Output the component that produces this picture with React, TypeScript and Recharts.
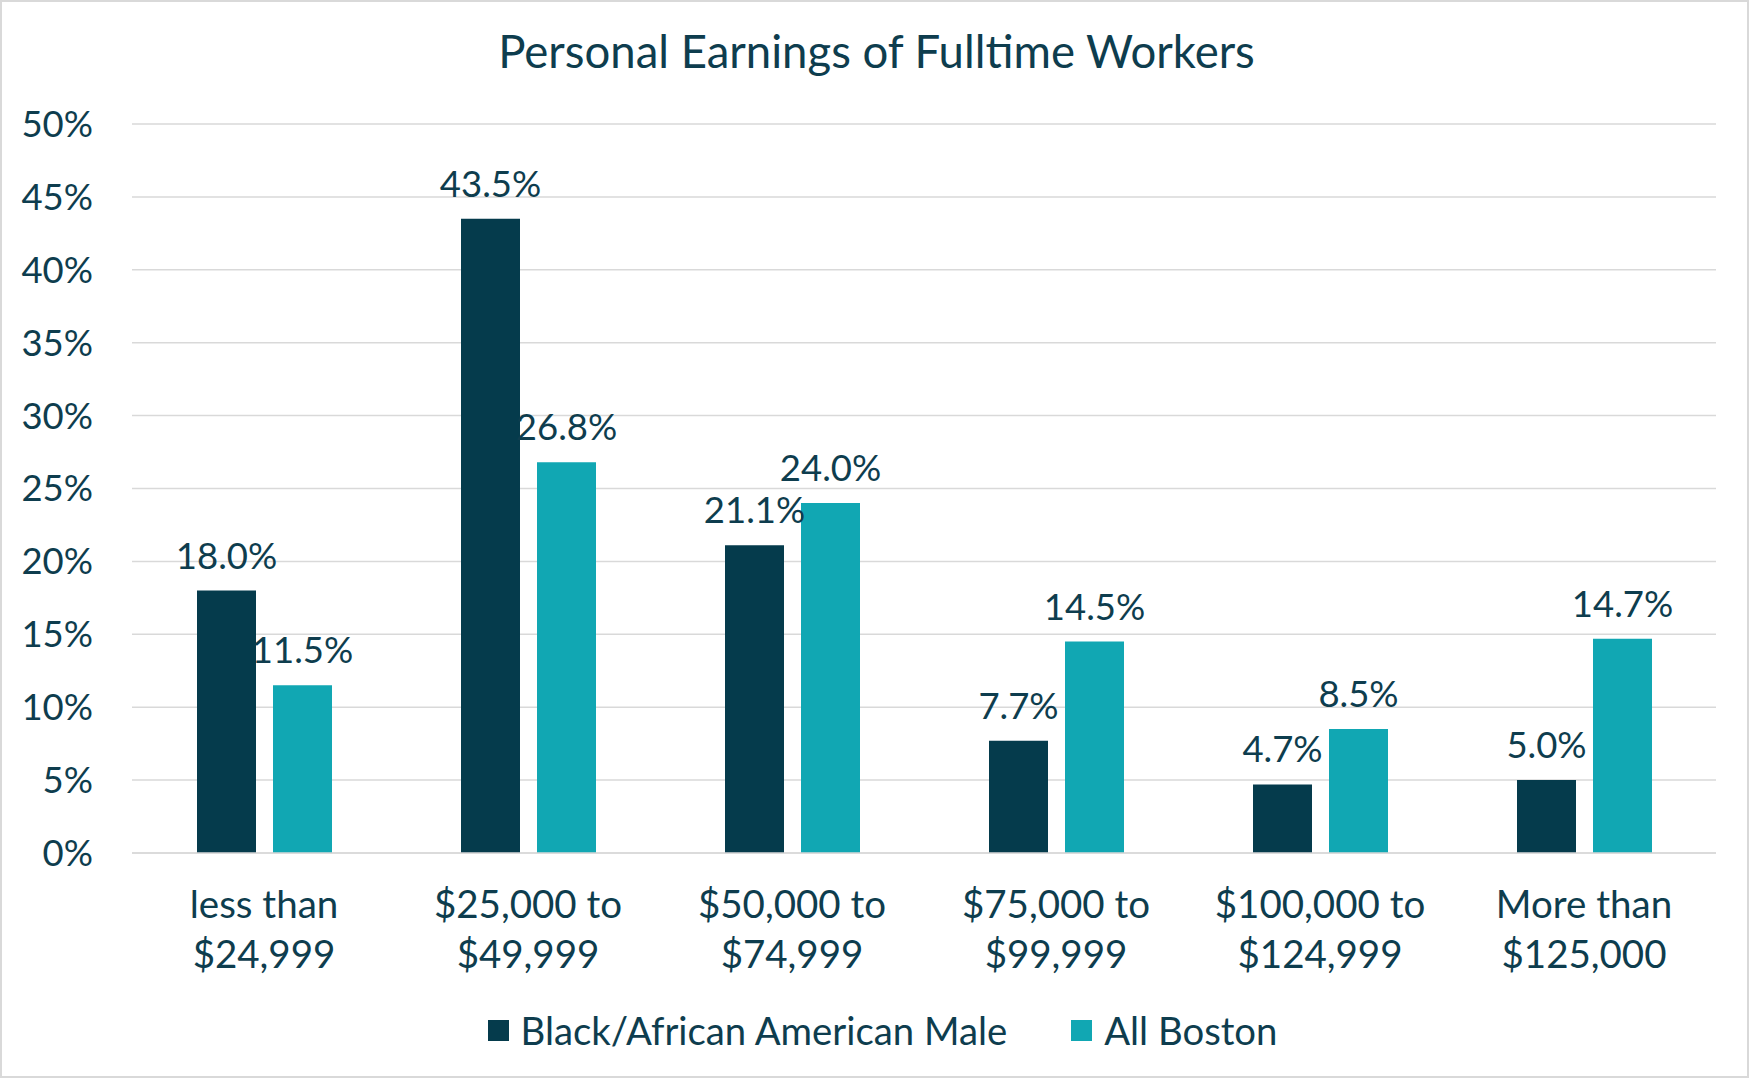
import React from "react";
import {
  BarChart,
  Bar,
  XAxis,
  YAxis,
  CartesianGrid,
  Legend,
  LabelList,
} from "recharts";

const categories = [
  "less than $24,999",
  "$25,000 to $49,999",
  "$50,000 to $74,999",
  "$75,000 to $99,999",
  "$100,000 to $124,999",
  "More than $125,000",
];
const blackMale = [18.0, 43.5, 21.1, 7.7, 4.7, 5.0];
const allBoston = [11.5, 26.8, 24.0, 14.5, 8.5, 14.7];
const yTicks = [0, 5, 10, 15, 20, 25, 30, 35, 40, 45, 50];

const seriesNames = ["Black/African American Male", "All Boston"];
const DARK = "#053b4c";
const TEAL = "#11a7b3";
const TEXT = "#0e3d4e";
const GRID = "#d9d9d9";
const FONT = "Lato, 'Open Sans', sans-serif";

const data = categories.map((c, i) => ({
  name: c,
  black: blackMale[i],
  boston: allBoston[i],
}));

const pct = (v: number) => `${v.toFixed(1)}%`;

function CategoryTick(props: any) {
  const { x, y, payload } = props;
  const label: string = payload.value;
  const cut = label.lastIndexOf(" ");
  const top = label.slice(0, cut);
  const bottom = label.slice(cut + 1);
  return (
    <g>
      <text x={x} y={y + 63} textAnchor="middle" fill={TEXT} fontSize={38.5} fontFamily={FONT}>
        {top}
      </text>
      <text x={x} y={y + 113} textAnchor="middle" fill={TEXT} fontSize={38.5} fontFamily={FONT}>
        {bottom}
      </text>
    </g>
  );
}

function LegendBox() {
  const colors = [DARK, TEAL];
  return (
    <div
      style={{
        height: 60,
        display: "flex",
        justifyContent: "center",
        alignItems: "center",
        paddingLeft: 49,
        fontFamily: FONT,
        fontSize: 38.3,
        color: TEXT,
      }}
    >
      {seriesNames.map((n, i) => (
        <div key={n} style={{ display: "flex", alignItems: "center", marginRight: i === 0 ? 64 : 0 }}>
          <span style={{ width: 21, height: 21, background: colors[i], marginRight: 12, display: "inline-block" }} />
          <span>{n}</span>
        </div>
      ))}
    </div>
  );
}

export default function App() {
  return (
    <div
      style={{
        position: "absolute",
        left: 0,
        top: 0,
        width: 1749,
        height: 1078,
        boxSizing: "border-box",
        border: "2px solid #d9d9d9",
        background: "#fff",
      }}
    >
      <div
        style={{
          position: "absolute",
          top: 19,
          left: 0,
          width: 1749,
          textAlign: "center",
          fontFamily: FONT,
          fontSize: 45.5,
          lineHeight: "60px",
          color: TEXT,
        }}
      >
        Personal Earnings of Fulltime Workers
      </div>
      <div style={{ position: "absolute", left: -2, top: -2 }}>
        <BarChart
          width={1749}
          height={1078}
          data={data}
          margin={{ top: 124, right: 33, bottom: 18, left: 0 }}
          barSize={59}
          barGap={17}
        >
          <CartesianGrid vertical={false} stroke={GRID} strokeWidth={1.5} />
          <XAxis
            dataKey="name"
            interval={0}
            height={147}
            tickLine={false}
            tickSize={0}
            axisLine={{ stroke: GRID, strokeWidth: 1.5 }}
            tick={<CategoryTick />}
          />
          <YAxis
            width={132}
            domain={[0, 50]}
            ticks={yTicks}
            interval={0}
            axisLine={false}
            tickLine={false}
            tickSize={0}
            tickMargin={39}
            tickFormatter={(v: number) => `${v}%`}
            tick={{ fill: TEXT, fontSize: 36.5, fontFamily: FONT }}
          />
          <Legend verticalAlign="bottom" content={<LegendBox />} />
          <Bar dataKey="black" name={seriesNames[0]} fill={DARK} isAnimationActive={false}>
            <LabelList
              dataKey="black"
              position="top"
              offset={22}
              formatter={(v: any) => pct(Number(v))}
              fill={TEXT}
              fontSize={36.5}
              fontFamily={FONT}
            />
          </Bar>
          <Bar dataKey="boston" name={seriesNames[1]} fill={TEAL} isAnimationActive={false}>
            <LabelList
              dataKey="boston"
              position="top"
              offset={22}
              formatter={(v: any) => pct(Number(v))}
              fill={TEXT}
              fontSize={36.5}
              fontFamily={FONT}
            />
          </Bar>
        </BarChart>
      </div>
    </div>
  );
}
